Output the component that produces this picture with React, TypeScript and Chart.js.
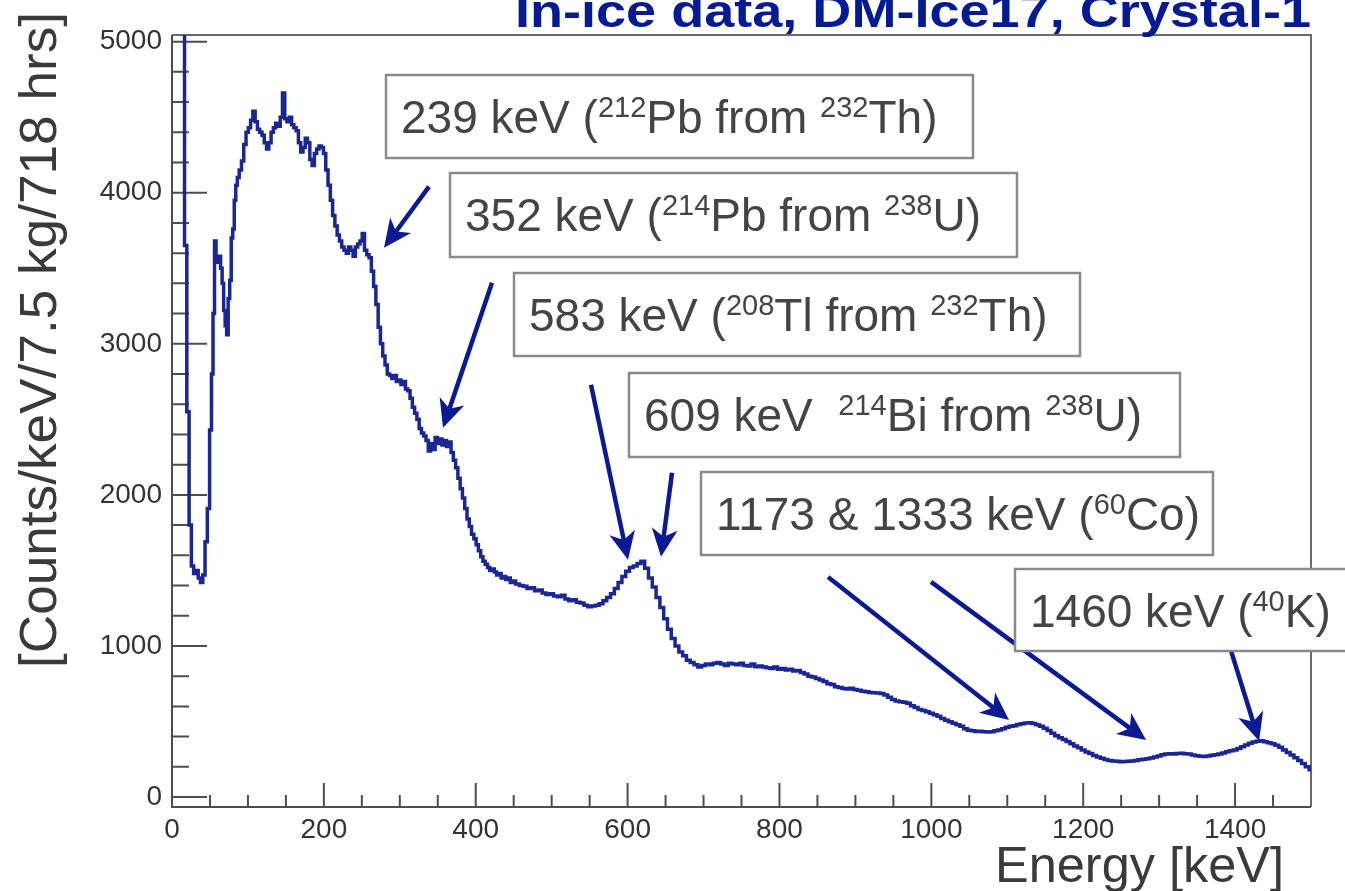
import React, { useEffect, useRef } from 'react';
import Chart from 'chart.js/auto';

const FONT = '"Liberation Sans", Arial, Helvetica, sans-serif';

// ---- Spectrum data (bin centres in keV, counts/keV/7.5 kg/718 hrs) ----
const lowEnergy = [0, 6, 12, 15, 18, 21, 24, 27, 30, 33, 36, 39, 42, 45, 48, 51, 53, 55, 57, 59, 61, 63, 65, 67, 69, 71, 73, 75, 77, 79, 81, 83, 85, 87];
const lowCounts = [9000, 9000, 8000, 6500, 3650, 2550, 1800, 1530, 1480, 1500, 1450, 1420, 1470, 1690, 1910, 2430, 2800, 3200, 3680, 3560, 3540, 3580, 3500, 3400, 3220, 3120, 3060, 3300, 3420, 3700, 3760, 3950, 4050, 4100];

const midStart = 90;
const midStep = 3;
const midCounts = [
  4150, 4210, 4320, 4400, 4430, 4480, 4540, 4470, 4420, 4400,
  4380, 4330, 4290, 4330, 4400, 4430, 4460, 4440, 4500, 4660,
  4490, 4470, 4500, 4450, 4430, 4410, 4330, 4270, 4300, 4360,
  4330, 4220, 4180, 4260, 4290, 4310, 4300, 4260, 4150, 4050,
  3950, 3850, 3780, 3720, 3680, 3640, 3620, 3600, 3640, 3620,
  3580, 3640, 3660, 3680, 3730, 3620, 3590, 3570, 3480, 3380,
  3260, 3110, 3000, 2920, 2860, 2800, 2790, 2770, 2790, 2750,
  2760, 2730, 2750, 2700, 2690, 2640, 2580, 2540, 2500, 2440,
  2410, 2390, 2360, 2290, 2340, 2300, 2380, 2340, 2370, 2330,
  2360, 2320, 2350, 2280, 2230, 2180, 2110, 2040, 1980, 1910,
  1840, 1790, 1740, 1710, 1670, 1630, 1590, 1560, 1540, 1520,
  1500, 1510, 1490, 1470, 1480, 1450, 1460, 1440, 1450, 1420,
  1430,
];

const highStart = 455;
const highStep = 5;
const highCounts = [
  1410, 1400, 1395, 1380, 1385, 1365, 1370, 1350, 1340, 1345,
  1330, 1325, 1335, 1310, 1300, 1305, 1290, 1285, 1270, 1260,
  1265, 1270, 1280, 1300, 1320, 1345, 1380, 1420, 1460, 1495,
  1520, 1530, 1545, 1560, 1515, 1450, 1390, 1320, 1255, 1180,
  1110, 1050, 1000, 960, 935, 905, 890, 875, 860, 870,
  880, 875, 885, 890, 880, 870, 885, 880, 875, 885,
  870, 868, 880, 862, 868, 860, 855, 850, 860, 845,
  850, 840, 845, 835, 838, 825, 815, 800, 795, 785,
  775, 765, 750, 745, 730, 725, 718, 715, 720, 712,
  706, 700, 697, 692, 690, 688, 685, 675, 660, 645,
  635, 630, 628, 620, 605, 592, 580, 572, 565, 555,
  545, 535, 520, 508, 498, 488, 478, 468, 452, 442,
  438, 434, 436, 432, 430, 432, 438, 444, 452, 462,
  468, 472, 480, 485, 490, 492, 486, 478, 468, 455,
  440, 422, 405, 392, 380, 368, 352, 338, 326, 312,
  298, 288, 275, 265, 256, 248, 242, 238, 236, 234,
  235, 236, 238, 242, 246, 250, 254, 258, 265, 272,
  280, 285, 287, 284, 288, 290, 286, 284, 278, 274,
  270, 268, 272, 276, 280, 284, 292, 300, 306, 312,
  322, 332, 345, 356, 364, 370, 372, 366, 360, 352,
  342, 330, 312, 295, 278, 260, 242, 222, 200, 180,
];

// ---- Axis definitions ----
const xMin = 0;
const xMax = 1500;
const xMajorStep = 200;
const xMinorStep = 50;
const yMin = -66;
const yMax = 5044;
const yMajorStep = 1000;
const yMinorStep = 200;
const xTickValues = [0, 200, 400, 600, 800, 1000, 1200, 1400];
const yTickValues = [0, 1000, 2000, 3000, 4000, 5000];

// ---- Texts ----
const titleText = 'In-ice data, DM-Ice17, Crystal-1';
const yTitle = '[Counts/keV/7.5 kg/718 hrs]';
const xTitle = 'Energy [keV]';

// peak labels: [text, isSuperscript]
const labelTexts: [string, boolean][][] = [
  [['239 keV (', false], ['212', true], ['Pb from ', false], ['232', true], ['Th)', false]],
  [['352 keV (', false], ['214', true], ['Pb from ', false], ['238', true], ['U)', false]],
  [['583 keV (', false], ['208', true], ['Tl from ', false], ['232', true], ['Th)', false]],
  [['609 keV  ', false], ['214', true], ['Bi from ', false], ['238', true], ['U)', false]],
  [['1173 & 1333 keV (', false], ['60', true], ['Co)', false]],
  [['1460 keV (', false], ['40', true], ['K)', false]],
];

// ---- Layout (pixels) ----
const labelBoxes = [
  [386, 75, 973, 158],
  [450, 173, 1017, 257],
  [514, 273, 1080, 356],
  [629, 373, 1180, 457],
  [701, 472, 1213, 555],
  [1015, 569, 1360, 651],
];
// arrows in data coordinates: [fromKeV, fromCounts, toKeV, toCounts]
const arrows = [
  [338.5, 4040, 279.2, 3636],
  [421.4, 3404, 356.9, 2444],
  [551.8, 2729, 600.5, 1570],
  [658.5, 2146, 644, 1590],
  [864, 1457, 1102.3, 510],
  [999.6, 1424, 1282.8, 377],
  [1394.7, 967, 1431.6, 371],
];

const LINE_BLUE = '#1a2694';
const ARROW_BLUE = '#0b1a92';
const TITLE_BLUE = '#061a94';
const TEXT_GRAY = '#444444';
const AXIS_GRAY = '#4d4d4d';

function buildSpectrum() {
  const pts: { x: number; y: number }[] = [];
  lowEnergy.forEach((e, i) => pts.push({ x: e, y: lowCounts[i] }));
  midCounts.forEach((c, i) => pts.push({ x: midStart + i * midStep, y: c }));
  highCounts.forEach((c, i) => pts.push({ x: highStart + i * highStep, y: c }));
  return pts;
}

function fitText(ctx: CanvasRenderingContext2D, text: string, x: number, y: number, width: number, font: string, rotate = 0) {
  ctx.save();
  ctx.font = font;
  const w = ctx.measureText(text).width;
  ctx.translate(x, y);
  if (rotate) ctx.rotate(rotate);
  ctx.scale(width / w, 1);
  ctx.textAlign = 'left';
  ctx.textBaseline = 'alphabetic';
  ctx.fillText(text, 0, 0);
  ctx.restore();
}

function drawArrow(ctx: CanvasRenderingContext2D, x1: number, y1: number, x2: number, y2: number) {
  const ang = Math.atan2(y2 - y1, x2 - x1);
  const c = Math.cos(ang);
  const s = Math.sin(ang);
  const headLen = 28;
  const headW = 13;
  const notch = 0.72;
  ctx.save();
  ctx.strokeStyle = ARROW_BLUE;
  ctx.fillStyle = ARROW_BLUE;
  ctx.lineWidth = 4.5;
  ctx.beginPath();
  ctx.moveTo(x1, y1);
  ctx.lineTo(x2 - headLen * notch * c, y2 - headLen * notch * s);
  ctx.stroke();
  const bx = x2 - headLen * c;
  const by = y2 - headLen * s;
  ctx.beginPath();
  ctx.moveTo(x2, y2);
  ctx.lineTo(bx - headW * s, by + headW * c);
  ctx.lineTo(x2 - headLen * notch * c, y2 - headLen * notch * s);
  ctx.lineTo(bx + headW * s, by - headW * c);
  ctx.closePath();
  ctx.fill();
  ctx.restore();
}

const decorPlugin = {
  id: 'decor',
  beforeDatasetsDraw(chart: any) {
    const { ctx, chartArea: a, scales } = chart;
    const xs = scales.x;
    const ys = scales.y;
    ctx.save();
    ctx.strokeStyle = AXIS_GRAY;
    ctx.lineWidth = 2;
    ctx.beginPath();
    for (let v = 0; v <= yTickValues[yTickValues.length - 1]; v += yMinorStep) {
      const p = ys.getPixelForValue(v);
      const len = v % yMajorStep === 0 ? 35 : 17;
      ctx.moveTo(a.left, p);
      ctx.lineTo(a.left + len, p);
    }
    for (let v = xMin; v < xMax; v += xMinorStep) {
      const p = xs.getPixelForValue(v);
      const len = v % xMajorStep === 0 ? 24 : 12;
      ctx.moveTo(p, a.bottom);
      ctx.lineTo(p, a.bottom - len);
    }
    ctx.stroke();
    ctx.strokeStyle = '#6a6a6a';
    ctx.beginPath();
    ctx.moveTo(a.left, a.top);
    ctx.lineTo(a.right, a.top);
    ctx.lineTo(a.right, a.bottom);
    ctx.stroke();
    ctx.strokeStyle = AXIS_GRAY;
    ctx.beginPath();
    ctx.moveTo(a.left, a.top);
    ctx.lineTo(a.left, a.bottom);
    ctx.lineTo(a.right, a.bottom);
    ctx.stroke();
    ctx.restore();
  },
  afterDraw(chart: any) {
    const { ctx, scales } = chart;
    const xs = scales.x;
    const ys = scales.y;
    ctx.save();
    // titles
    ctx.fillStyle = TITLE_BLUE;
    fitText(ctx, titleText, 515, 27, 796, `bold 46px ${FONT}`);
    ctx.fillStyle = '#3a3a3a';
    fitText(ctx, yTitle, 56, 668, 656, `52px ${FONT}`, -Math.PI / 2);
    fitText(ctx, xTitle, 995, 882, 289, `50px ${FONT}`);

    // arrows
    arrows.forEach(([ex1, c1, ex2, c2]) => {
      drawArrow(ctx, xs.getPixelForValue(ex1), ys.getPixelForValue(c1), xs.getPixelForValue(ex2), ys.getPixelForValue(c2));
    });

    // label boxes
    labelBoxes.forEach((b, i) => {
      const [l, t, r, btm] = b;
      ctx.fillStyle = '#ffffff';
      ctx.fillRect(l, t, r - l, btm - t);
      ctx.strokeStyle = '#8a8a8a';
      ctx.lineWidth = 2.5;
      ctx.strokeRect(l, t, r - l, btm - t);
      let x = l + 15;
      const base = t + 58;
      ctx.fillStyle = TEXT_GRAY;
      ctx.textAlign = 'left';
      ctx.textBaseline = 'alphabetic';
      labelTexts[i].forEach(([txt, sup]) => {
        ctx.font = sup ? `29px ${FONT}` : `46px ${FONT}`;
        ctx.fillText(txt, x, sup ? base - 16 : base);
        x += ctx.measureText(txt).width;
      });
    });
    ctx.restore();
  },
};

export default function App() {
  const canvasRef = useRef<HTMLCanvasElement | null>(null);

  useEffect(() => {
    if (!canvasRef.current) return;
    const chart = new Chart(canvasRef.current, {
      type: 'line',
      data: {
        datasets: [
          {
            data: buildSpectrum(),
            borderColor: LINE_BLUE,
            borderWidth: 3.5,
            pointRadius: 0,
            stepped: 'middle',
            fill: false,
            tension: 0,
          },
        ],
      },
      options: {
        responsive: false,
        animation: false,
        devicePixelRatio: 1,
        events: [],
        layout: { padding: { top: 35, right: 34, left: 0, bottom: 0 } },
        plugins: { legend: { display: false }, tooltip: { enabled: false }, title: { display: false } },
        scales: {
          x: {
            type: 'linear',
            min: xMin,
            max: xMax,
            grid: { display: false, drawTicks: false },
            border: { display: false },
            afterBuildTicks: (scale: any) => {
              scale.ticks = xTickValues.map((v) => ({ value: v }));
            },
            ticks: {
              maxRotation: 0,
              autoSkip: false,
              padding: 6,
              color: '#333333',
              font: { family: FONT, size: 28 },
              callback: (v: any) => String(v),
            },
            afterFit: (scale: any) => {
              scale.height = 84;
            },
          },
          y: {
            type: 'linear',
            min: yMin,
            max: yMax,
            grid: { display: false, drawTicks: false },
            border: { display: false },
            afterBuildTicks: (scale: any) => {
              scale.ticks = yTickValues.map((v) => ({ value: v }));
            },
            ticks: {
              autoSkip: false,
              padding: 10,
              color: '#333333',
              font: { family: FONT, size: 28 },
              callback: (v: any) => String(v),
            },
            afterFit: (scale: any) => {
              scale.width = 172;
            },
          },
        },
      },
      plugins: [decorPlugin],
    } as any);
    return () => chart.destroy();
  }, []);

  return (
    <div style={{ position: 'absolute', left: 0, top: 0, width: 1345, height: 891, background: '#ffffff' }}>
      <canvas ref={canvasRef} width={1345} height={891} style={{ display: 'block' }} />
    </div>
  );
}
